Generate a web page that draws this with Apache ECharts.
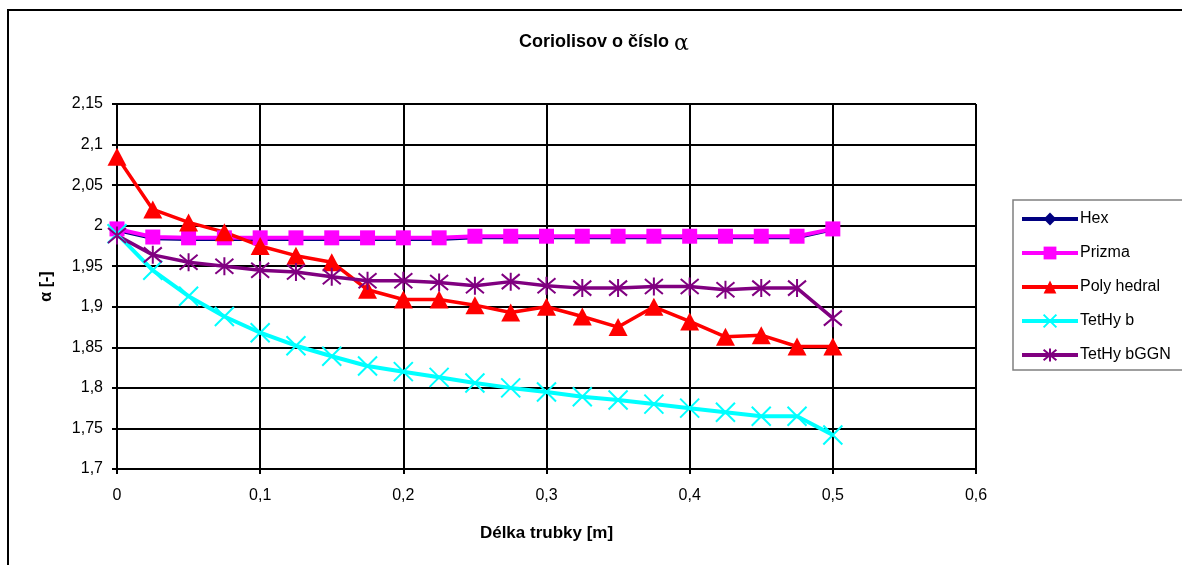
<!DOCTYPE html>
<html>
<head>
<meta charset="utf-8">
<script src="https://cdn.jsdelivr.net/npm/echarts@6/dist/echarts.min.js"></script>
<style>
html,body{margin:0;padding:0;background:#fff;}
#c{width:1182px;height:565px;}
</style>
</head>
<body>
<div id="c"></div>
<script>
const xValues = [0,0.025,0.05,0.075,0.1,0.125,0.15,0.175,0.2,0.225,0.25,0.275,0.3,0.325,0.35,0.375,0.4,0.425,0.45,0.475,0.5];
const hex = [1.994,1.984,1.983,1.983,1.983,1.983,1.983,1.983,1.983,1.983,1.985,1.985,1.985,1.985,1.985,1.985,1.985,1.985,1.985,1.985,1.995];
const prizma = [1.996,1.986,1.985,1.985,1.985,1.985,1.985,1.985,1.985,1.985,1.987,1.987,1.987,1.987,1.987,1.987,1.987,1.987,1.987,1.987,1.996];
const polyhedral = [2.085,2.020,2.004,1.992,1.975,1.963,1.955,1.921,1.909,1.909,1.902,1.893,1.900,1.888,1.875,1.900,1.882,1.863,1.865,1.851,1.851];
const tetHyb = [1.990,1.945,1.913,1.888,1.868,1.852,1.839,1.827,1.820,1.813,1.806,1.800,1.795,1.789,1.785,1.780,1.775,1.770,1.765,1.765,1.742];
const tetHybGGN = [1.988,1.964,1.955,1.950,1.945,1.943,1.937,1.932,1.932,1.930,1.926,1.931,1.926,1.923,1.923,1.925,1.925,1.921,1.923,1.923,1.886];
const seriesNames = ['Hex','Prizma','Poly hedral','TetHy b','TetHy bGGN'];
const yTicks = {min:1.7, max:2.15, interval:0.05};
const xTicks = {min:0, max:0.6, interval:0.1};

const pairs = arr => arr.map((v,i)=>[xValues[i], v]);
const fmt = v => String(+Number(v).toFixed(3)).replace('.', ',');
const FONT = 'Liberation Sans, Arial, sans-serif';

const chart = echarts.init(document.getElementById('c'), null, {renderer:'canvas'});
const xPath = 'path://M0,0L10,10M10,0L0,10';
const starPath = 'path://M0,0L10,10M10,0L0,10M5,-1L5,11';

chart.setOption({
  backgroundColor:'#fff',
  animation:false,
  graphic:[
    {type:'rect', shape:{x:8,y:10,width:1300,height:700}, style:{fill:'none', stroke:'#000', lineWidth:2}, silent:true, z:-1},
    {type:'rect', shape:{x:1013,y:200,width:300,height:170}, style:{fill:'none', stroke:'#808080', lineWidth:1.5}, silent:true, z:-1}
  ],
  title:{
    text:'Coriolisov o číslo {a|α}',
    left:599, top:24, textAlign:'center',
    textStyle:{fontFamily:FONT, fontSize:18, fontWeight:'bold', color:'#000',
      rich:{a:{fontFamily:'DejaVu Serif, serif', fontSize:22, fontWeight:'normal', color:'#000', padding:[4,0,0,0]}}}
  },
  legend:{
    orient:'vertical', left:1013, top:200,
    padding:[11,10,8,7],
    itemGap:18, itemWidth:56, itemHeight:16,
    lineStyle:{width:4},
    textStyle:{fontFamily:FONT, fontSize:16, color:'#000', padding:[0,0,0,-3]},
    data:seriesNames
  },
  grid:{left:117, right:206, top:104, bottom:96},
  xAxis:{
    type:'value', min:xTicks.min, max:xTicks.max, interval:xTicks.interval,
    name:'Délka trubky [m]', nameLocation:'middle', nameGap:56,
    nameTextStyle:{fontFamily:FONT, fontSize:17, fontWeight:'bold', color:'#000'},
    axisLine:{show:true, onZero:false, lineStyle:{color:'#000', width:2}},
    axisTick:{show:true, length:5, lineStyle:{color:'#000', width:2}},
    axisLabel:{fontFamily:FONT, fontSize:16, color:'#000', margin:19, formatter:fmt},
    splitLine:{show:true, lineStyle:{color:'#000', width:2}}
  },
  yAxis:{
    type:'value', min:yTicks.min, max:yTicks.max, interval:yTicks.interval,
    name:'α [-]', nameLocation:'middle', nameGap:62, nameRotate:90,
    nameTextStyle:{fontFamily:FONT, fontSize:16, fontWeight:'bold', color:'#000'},
    axisLine:{show:true, onZero:false, lineStyle:{color:'#000', width:2}},
    axisTick:{show:true, length:5, lineStyle:{color:'#000', width:2}},
    axisLabel:{fontFamily:FONT, fontSize:16, color:'#000', margin:14, formatter:fmt},
    splitLine:{show:true, lineStyle:{color:'#000', width:2}}
  },
  series:[
    {name:seriesNames[0], type:'line', data:pairs(hex), symbol:'diamond', symbolSize:11,
     lineStyle:{color:'#000080', width:3}, itemStyle:{color:'#000080'}},
    {name:seriesNames[1], type:'line', data:pairs(prizma), symbol:'rect', symbolSize:15,
     lineStyle:{color:'#FF00FF', width:4}, itemStyle:{color:'#FF00FF'}},
    {name:seriesNames[2], type:'line', data:pairs(polyhedral), symbol:'triangle', symbolSize:[19,18],
     lineStyle:{color:'#FF0000', width:3.5}, itemStyle:{color:'#FF0000'}},
    {name:seriesNames[3], type:'line', data:pairs(tetHyb), symbol:xPath, symbolSize:19,
     lineStyle:{color:'#00FFFF', width:4}, itemStyle:{color:'#00FFFF', borderColor:'#00FFFF', borderWidth:2}},
    {name:seriesNames[4], type:'line', data:pairs(tetHybGGN), symbol:starPath, symbolSize:18,
     lineStyle:{color:'#800080', width:3.5}, itemStyle:{color:'#800080', borderColor:'#800080', borderWidth:2}}
  ]
});
</script>
</body>
</html>
